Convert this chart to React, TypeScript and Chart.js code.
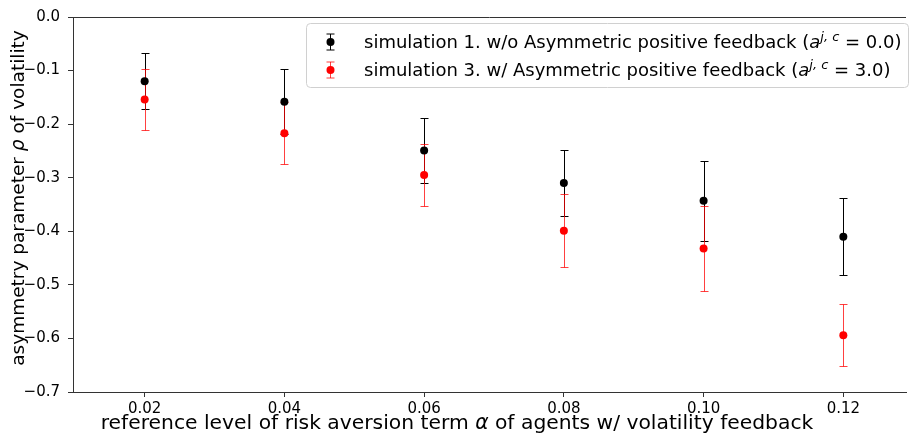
import React, { useEffect, useRef } from 'react';
import { Chart, registerables } from 'chart.js';

Chart.register(...registerables);

// ---- data ----
const riskAversionLevels = [0.02, 0.04, 0.06, 0.08, 0.1, 0.12];
const sim1Rho = [-0.12, -0.158, -0.249, -0.31, -0.343, -0.41];
const sim1Err = [0.052, 0.061, 0.061, 0.061, 0.075, 0.072];
const sim3Rho = [-0.154, -0.217, -0.295, -0.399, -0.432, -0.594];
const sim3Err = [0.057, 0.058, 0.058, 0.068, 0.08, 0.058];
const xTickValues = [0.02, 0.04, 0.06, 0.08, 0.1, 0.12];
const yTickValues = [0, -0.1, -0.2, -0.3, -0.4, -0.5, -0.6, -0.7];

const sim1Label = ['simulation 1. w/o Asymmetric positive feedback (', 'a', 'j, c', ' = 0.0)'];
const sim3Label = ['simulation 3. w/ Asymmetric positive feedback (', 'a', 'j, c', ' = 3.0)'];
const xTitleParts = ['reference level of risk aversion term ', 'α', ' of agents w/ volatility feedback'];
const yTitleParts = ['asymmetry parameter ', 'ρ', ' of volatility'];

const FONT = 'DejaVu Sans';

type Seg = { text: string; font: string; dy?: number };

function segsWidth(ctx: CanvasRenderingContext2D, segs: Seg[]) {
  let w = 0;
  for (const s of segs) {
    ctx.font = s.font;
    w += ctx.measureText(s.text).width;
  }
  return w;
}

function drawSegs(ctx: CanvasRenderingContext2D, segs: Seg[], x: number, y: number) {
  let cx = x;
  for (const s of segs) {
    ctx.font = s.font;
    ctx.fillText(s.text, cx, y + (s.dy || 0));
    cx += ctx.measureText(s.text).width;
  }
}

function labelSegs(parts: string[]): Seg[] {
  return [
    { text: parts[0], font: `18px "${FONT}"` },
    { text: parts[1], font: `oblique 18px "${FONT}"` },
    { text: parts[2], font: `oblique 13px "${FONT}"`, dy: -7 },
    { text: parts[3], font: `18px "${FONT}"` },
  ];
}

function titleSegs(parts: string[], size: number): Seg[] {
  return [
    { text: parts[0], font: `${size}px "${FONT}"` },
    { text: parts[1], font: `oblique ${size}px "${FONT}"` },
    { text: parts[2], font: `${size}px "${FONT}"` },
  ];
}

const errorBarPlugin = {
  id: 'errorBars',
  beforeDatasetsDraw(chart: any) {
    const ctx: CanvasRenderingContext2D = chart.ctx;
    const xs = chart.scales.x;
    const ys = chart.scales.y;
    chart.data.datasets.forEach((ds: any) => {
      ctx.save();
      ctx.strokeStyle = ds.errorColor;
      ctx.lineWidth = 1;
      ds.data.forEach((p: any, j: number) => {
        const x = Math.round(xs.getPixelForValue(p.x)) + 0.5;
        const y1 = Math.round(ys.getPixelForValue(p.y + ds.errors[j])) + 0.5;
        const y2 = Math.round(ys.getPixelForValue(p.y - ds.errors[j])) + 0.5;
        ctx.beginPath();
        ctx.moveTo(x, y1);
        ctx.lineTo(x, y2);
        ctx.moveTo(x - 4, y1);
        ctx.lineTo(x + 4, y1);
        ctx.moveTo(x - 4, y2);
        ctx.lineTo(x + 4, y2);
        ctx.stroke();
      });
      ctx.restore();
    });
  },
};

const decorPlugin = {
  id: 'decor',
  afterDraw(chart: any) {
    const ctx: CanvasRenderingContext2D = chart.ctx;
    const area = chart.chartArea;
    ctx.save();
    // top spine
    ctx.strokeStyle = '#333';
    ctx.lineWidth = 1;
    ctx.beginPath();
    ctx.moveTo(area.left, Math.round(area.top) + 0.5);
    ctx.lineTo(area.right, Math.round(area.top) + 0.5);
    ctx.stroke();

    // legend box
    const bx = 306.5, by = 23.5, bw = 602, bh = 64;
    ctx.beginPath();
    (ctx as any).roundRect(bx, by, bw, bh, 4);
    ctx.fillStyle = 'rgba(255,255,255,0.8)';
    ctx.fill();
    ctx.strokeStyle = '#d0d0d0';
    ctx.stroke();

    const rows = [
      { parts: sim1Label, color: '#000000', bar: '#000000', cy: 42 },
      { parts: sim3Label, color: '#ff0000', bar: 'rgba(255,0,0,0.75)', cy: 70 },
    ];
    for (const r of rows) {
      const mx = 330.5;
      ctx.strokeStyle = r.bar;
      ctx.lineWidth = 1;
      ctx.beginPath();
      ctx.moveTo(mx, r.cy - 8);
      ctx.lineTo(mx, r.cy + 8);
      ctx.moveTo(mx - 4, r.cy - 8);
      ctx.lineTo(mx + 4, r.cy - 8);
      ctx.moveTo(mx - 4, r.cy + 8);
      ctx.lineTo(mx + 4, r.cy + 8);
      ctx.stroke();
      ctx.fillStyle = r.color;
      ctx.beginPath();
      ctx.arc(mx, r.cy, 4, 0, Math.PI * 2);
      ctx.fill();
      ctx.fillStyle = '#000';
      ctx.textBaseline = 'alphabetic';
      ctx.textAlign = 'left';
      drawSegs(ctx, labelSegs(r.parts), 364, r.cy + 6);
    }

    // axis titles
    ctx.fillStyle = '#000';
    ctx.textAlign = 'left';
    ctx.textBaseline = 'alphabetic';
    const xs = titleSegs(xTitleParts, 20.3);
    const xw = segsWidth(ctx, xs);
    drawSegs(ctx, xs, 457 - xw / 2, 429);

    const ysg = titleSegs(yTitleParts, 18.5);
    const yw = segsWidth(ctx, ysg);
    ctx.translate(24, 198);
    ctx.rotate(-Math.PI / 2);
    drawSegs(ctx, ysg, -yw / 2, 0);
    ctx.restore();
  },
};

export default function App() {
  const canvasRef = useRef<HTMLCanvasElement | null>(null);

  useEffect(() => {
    if (!canvasRef.current) return;
    const chart = new Chart(canvasRef.current, {
      type: 'scatter',
      data: {
        datasets: [
          {
            label: 'simulation 1',
            data: riskAversionLevels.map((x, i) => ({ x, y: sim1Rho[i] })),
            backgroundColor: '#000000',
            borderWidth: 0,
            pointRadius: 4,
            pointHoverRadius: 4,
            errors: sim1Err,
            errorColor: '#000000',
          } as any,
          {
            label: 'simulation 3',
            data: riskAversionLevels.map((x, i) => ({ x, y: sim3Rho[i] })),
            backgroundColor: '#ff0000',
            borderWidth: 0,
            pointRadius: 4,
            pointHoverRadius: 4,
            errors: sim3Err,
            errorColor: 'rgba(255,0,0,0.75)',
          } as any,
        ],
      },
      options: {
        animation: false,
        responsive: true,
        maintainAspectRatio: false,
        devicePixelRatio: 1,
        layout: { padding: { top: 15, left: 0, right: 0, bottom: 0 } },
        plugins: {
          legend: { display: false },
          tooltip: { enabled: false },
          title: { display: false },
        },
        scales: {
          x: {
            type: 'linear',
            min: 0.009744,
            max: 0.12897,
            afterBuildTicks: (scale: any) => {
              scale.ticks = xTickValues.map((v) => ({ value: v }));
            },
            afterFit: (scale: any) => {
              scale.height = 43;
            },
            ticks: {
              color: '#000',
              padding: 3,
              font: { family: FONT, size: 15 },
              callback: (v: any) => Number(v).toFixed(2),
            },
            grid: {
              drawOnChartArea: false,
              drawTicks: true,
              tickLength: 5,
              tickColor: '#333',
              color: '#333',
            },
            border: { display: true, color: '#333', width: 1 },
          },
          y: {
            type: 'linear',
            min: -0.7,
            max: 0,
            afterBuildTicks: (scale: any) => {
              scale.ticks = yTickValues.map((v) => ({ value: v }));
            },
            afterFit: (scale: any) => {
              scale.width = 73;
            },
            ticks: {
              color: '#000',
              padding: 8,
              font: { family: FONT, size: 15 },
              callback: (v: any) => {
                const n = Number(v);
                if (Math.abs(n) < 1e-9) return '0.0';
                return (n < 0 ? '\u2212' : '') + Math.abs(n).toFixed(1);
              },
            },
            grid: {
              drawOnChartArea: false,
              drawTicks: true,
              tickLength: 5,
              tickColor: '#333',
              color: '#333',
            },
            border: { display: true, color: '#333', width: 1 },
          },
        },
      } as any,
      plugins: [errorBarPlugin, decorPlugin],
    });
    return () => chart.destroy();
  }, []);

  return (
    <div style={{ position: 'absolute', left: 0, top: 0, width: 910, height: 435, background: '#fff' }}>
      <canvas ref={canvasRef} />
    </div>
  );
}
